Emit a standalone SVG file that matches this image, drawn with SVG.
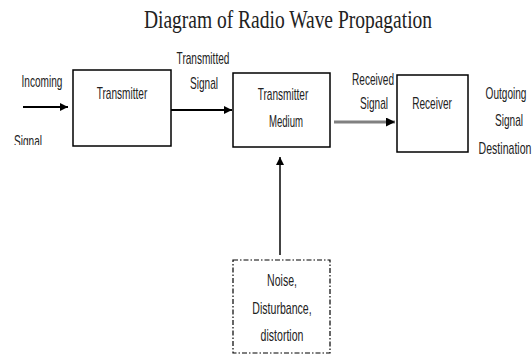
<svg xmlns="http://www.w3.org/2000/svg" width="532" height="356" viewBox="0 0 532 356">
<style>
.box{fill:#fff;stroke:#000;stroke-width:1.5}
.lbl{font-family:"Liberation Sans",Arial,sans-serif;font-size:16px;fill:#222;text-anchor:middle}
.title{font-family:"Liberation Serif","Times New Roman",serif;font-size:25px;fill:#222;text-anchor:middle}
.conn{fill:none;stroke:#000;stroke-width:2}
</style>
<defs>
<marker id="ah" viewBox="0 0 10 10" refX="10" refY="5" markerWidth="4" markerHeight="4" orient="auto" markerUnits="strokeWidth">
<path d="M0,0 L10,5 L0,10 z" fill="#000"/>
</marker>
<marker id="ahg" viewBox="0 0 10 10" refX="10" refY="5" markerWidth="3" markerHeight="3" orient="auto" markerUnits="strokeWidth">
<path d="M0,0 L10,5 L0,10 z" fill="#000"/>
</marker>
<clipPath id="clipSig"><rect x="0" y="128" width="60" height="17"/></clipPath>
</defs>
<rect width="532" height="356" fill="#fff"/>
<text class="title" transform="translate(288,28) scale(0.78,1)">Diagram of Radio Wave Propagation</text>

<g id="connectors">
<line class="conn" x1="23" y1="107" x2="68" y2="107" marker-end="url(#ah)"/>
<line class="conn" x1="171" y1="110" x2="232" y2="110" marker-end="url(#ah)"/>
<line x1="334" y1="122" x2="395" y2="122" stroke="#808080" stroke-width="3" marker-end="url(#ahg)"/>
<line x1="280" y1="255" x2="280" y2="157" stroke="#444" stroke-width="2" marker-end="url(#ah)"/>
<text class="lbl" transform="translate(42,87) scale(0.63,1)">Incoming</text>
<g clip-path="url(#clipSig)"><text class="lbl" transform="translate(28,147) scale(0.63,1)">Signal</text></g>
<text class="lbl" transform="translate(203,64) scale(0.63,1)">Transmitted</text>
<text class="lbl" transform="translate(204,89) scale(0.63,1)">Signal</text>
<text class="lbl" transform="translate(373,85) scale(0.63,1)">Received</text>
<text class="lbl" transform="translate(374,109) scale(0.63,1)">Signal</text>
<text class="lbl" transform="translate(506,99) scale(0.63,1)">Outgoing</text>
<text class="lbl" transform="translate(509,126) scale(0.63,1)">Signal</text>
<text class="lbl" transform="translate(505,154) scale(0.66,1)">Destination</text>
</g>

<g id="transmitter">
<rect class="box" x="73" y="70" width="98" height="76"/>
<text class="lbl" transform="translate(122,99) scale(0.63,1)">Transmitter</text>
</g>

<g id="medium">
<rect class="box" x="233" y="73" width="97" height="74"/>
<text class="lbl" transform="translate(283,100) scale(0.63,1)">Transmitter</text>
<text class="lbl" transform="translate(286,127) scale(0.6,1)">Medium</text>
</g>

<g id="receiver">
<rect class="box" x="397" y="75" width="71" height="77"/>
<text class="lbl" transform="translate(432,109) scale(0.63,1)">Receiver</text>
</g>

<g id="noise">
<rect x="233" y="260" width="97" height="93" fill="#fff" stroke="#000" stroke-width="1.2" stroke-dasharray="5,2,1.5,2"/>
<text class="lbl" transform="translate(282,286) scale(0.66,1)">Noise,</text>
<text class="lbl" transform="translate(282,314) scale(0.66,1)">Disturbance,</text>
<text class="lbl" transform="translate(282,341) scale(0.66,1)">distortion</text>
</g>
</svg>
